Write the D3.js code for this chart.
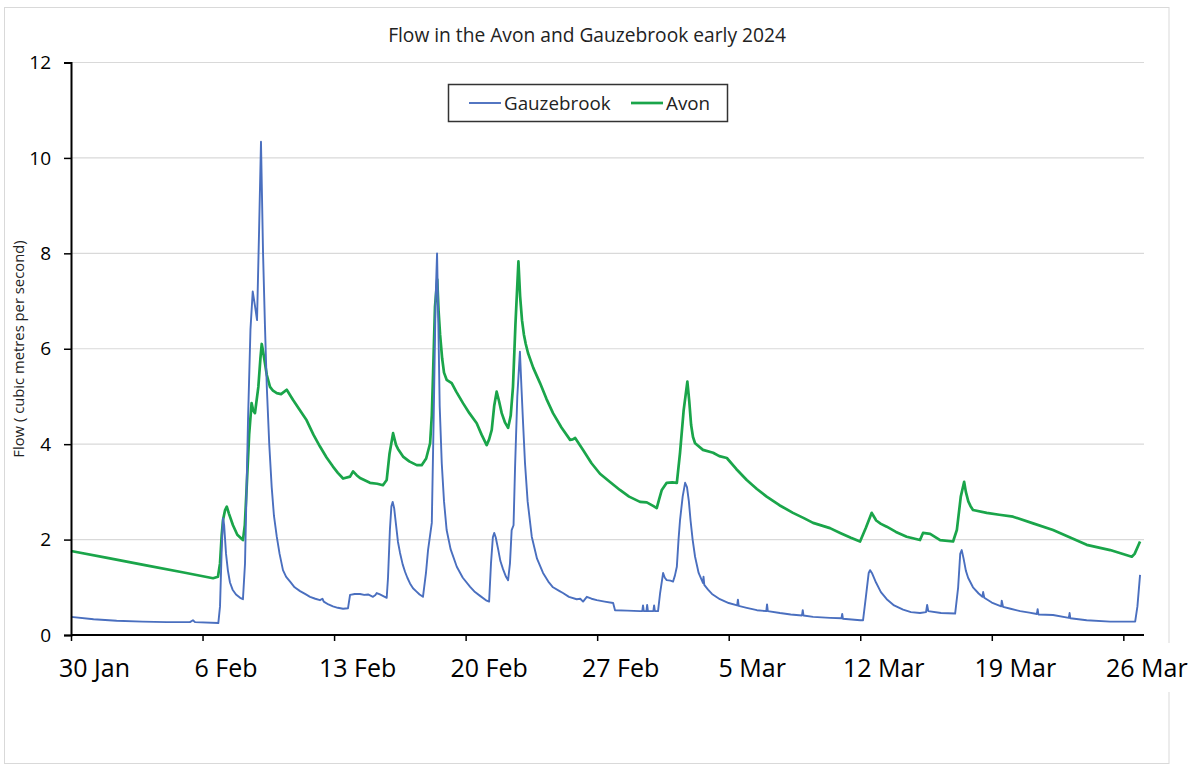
<!DOCTYPE html>
<html><head><meta charset="utf-8">
<script src="https://cdn.jsdelivr.net/npm/d3@7"></script>
<style>
body{margin:0;background:#fff;}
text{font-family:"Open Sans",Lato,sans-serif;fill:#000;}
</style>
</head><body>
<svg id="chart" width="1200" height="767"></svg>
<script>
// ---------- data ----------
const chartTitle = "Flow in the Avon and Gauzebrook early 2024";
const yAxisTitle = "Flow ( cubic metres per second)";
const seriesNames = ["Gauzebrook", "Avon"];
const startDay = Date.UTC(2024, 0, 30);   // 30 Jan 2024
const tickDayOffsets = [0, 7, 14, 21, 28, 35, 42, 49, 56];
const tickLabels = ["30 Jan", "6 Feb", "13 Feb", "20 Feb", "27 Feb", "5 Mar", "12 Mar", "19 Mar", "26 Mar"];
const yTicks = [0, 2, 4, 6, 8, 10, 12];

// [days since 30 Jan, flow m3/s]
const gauzeReadings = [[0.00,0.38],[1.2,0.33],[2.43,0.30],[3.8,0.28],[5.09,0.27],[6.33,0.27],[6.49,0.31],[6.60,0.27],[7.84,0.25],[7.93,0.60],
  [8.02,1.8],[8.09,2.45],[8.15,2.3],[8.25,1.7],[8.35,1.35],[8.46,1.1],[8.6,0.95],[8.78,0.85],[9.0,0.78],[9.15,0.75],
  [9.26,1.5],[9.42,4.5],[9.55,6.4],[9.67,7.2],[9.79,6.9],[9.90,6.6],[10.01,8.5],[10.11,10.34],[10.22,8.0],[10.32,6.5],
  [10.42,5.2],[10.55,4.0],[10.68,3.1],[10.8,2.5],[10.95,2.06],[11.1,1.7],[11.28,1.36],[11.45,1.22],[11.66,1.12],[11.9,1.0],
  [12.19,0.92],[12.5,0.85],[12.72,0.80],[13.0,0.76],[13.25,0.73],[13.38,0.76],[13.45,0.70],[13.7,0.64],[13.94,0.60],[14.2,0.57],
  [14.48,0.55],[14.74,0.56],[14.85,0.84],[15.1,0.86],[15.38,0.86],[15.6,0.84],[15.81,0.85],[16.07,0.80],[16.2,0.84],[16.27,0.88],
  [16.44,0.85],[16.80,0.78],[16.87,1.2],[16.97,2.2],[17.05,2.7],[17.12,2.79],[17.2,2.65],[17.3,2.3],[17.4,1.95],[17.51,1.72],
  [17.65,1.48],[17.78,1.32],[17.9,1.2],[18.04,1.08],[18.2,0.98],[18.36,0.92],[18.55,0.85],[18.73,0.80],[18.89,1.3],[19.0,1.78],
  [19.20,2.35],[19.32,5.0],[19.40,7.0],[19.48,8.0],[19.55,6.5],[19.62,4.8],[19.73,3.6],[19.85,2.8],[19.99,2.2],[20.2,1.8],
  [20.53,1.43],[20.85,1.2],[21.24,1.01],[21.5,0.9],[21.77,0.82],[22.12,0.72],[22.25,0.70],[22.35,1.5],[22.45,2.05],[22.52,2.14],
  [22.6,2.05],[22.73,1.8],[22.85,1.55],[22.99,1.38],[23.15,1.22],[23.26,1.15],[23.36,1.5],[23.45,2.2],[23.55,2.3],[23.63,3.5],
  [23.75,5.0],[23.89,5.94],[23.97,5.2],[24.05,4.5],[24.16,3.6],[24.3,2.8],[24.52,2.06],[24.8,1.6],[25.12,1.3],[25.4,1.12],
  [25.65,1.0],[26.0,0.92],[26.18,0.88],[26.5,0.80],[26.91,0.75],[27.1,0.76],[27.25,0.70],[27.45,0.80],[27.7,0.76],[27.98,0.73],
  [28.4,0.70],[28.85,0.67],[28.95,0.52],[29.6,0.51],[30.28,0.50],[30.40,0.50],[30.44,0.62],[30.48,0.50],[30.62,0.50],[30.66,0.63],
  [30.70,0.50],[30.99,0.50],[31.03,0.62],[31.07,0.50],[31.24,0.50],[31.35,0.88],[31.51,1.30],[31.60,1.20],[31.70,1.15],[31.9,1.14],
  [32.04,1.12],[32.14,1.25],[32.24,1.43],[32.33,2.0],[32.41,2.41],[32.55,2.9],[32.68,3.19],[32.78,3.1],[32.88,2.8],[32.97,2.4],
  [33.08,2.0],[33.21,1.64],[33.4,1.3],[33.63,1.09],[33.66,1.22],[33.70,1.05],[33.9,0.95],[34.11,0.86],[34.53,0.75],[35.0,0.67],
  [35.45,0.62],[35.49,0.74],[35.53,0.61],[35.96,0.57],[36.5,0.52],[37.0,0.50],[37.04,0.64],[37.08,0.50],[37.73,0.46],[38.3,0.43],
  [38.9,0.41],[38.94,0.52],[38.98,0.41],[39.49,0.38],[40.39,0.36],[41.0,0.35],[41.04,0.44],[41.08,0.34],[42.0,0.31],[42.15,0.31],
  [42.3,0.8],[42.45,1.3],[42.52,1.36],[42.62,1.3],[42.84,1.1],[43.1,0.9],[43.41,0.75],[43.8,0.62],[44.28,0.53],[44.7,0.48],
  [45.18,0.46],[45.50,0.48],[45.56,0.63],[45.62,0.50],[46.3,0.46],[47.05,0.45],[47.21,1.0],[47.32,1.7],[47.40,1.78],[47.5,1.6],
  [47.62,1.35],[47.74,1.2],[48.0,1.0],[48.3,0.87],[48.50,0.80],[48.54,0.90],[48.60,0.78],[49.0,0.68],[49.50,0.60],[49.53,0.72],
  [49.60,0.59],[50.0,0.55],[50.51,0.50],[51.0,0.47],[51.40,0.44],[51.44,0.54],[51.48,0.43],[52.26,0.42],[53.10,0.36],[53.14,0.46],
  [53.18,0.35],[54.05,0.31],[55.30,0.28],[56.63,0.28],[56.75,0.6],[56.89,1.26]];

const avonReadings = [[0.00,1.76],[2.0,1.61],[4.0,1.46],[6.0,1.31],[7.56,1.19],[7.82,1.22],[7.93,1.50],[8.02,2.1],[8.09,2.41],[8.20,2.62],
  [8.29,2.69],[8.40,2.55],[8.62,2.3],[8.85,2.1],[9.15,1.99],[9.25,2.3],[9.35,3.11],[9.48,4.2],[9.61,4.86],[9.70,4.7],
  [9.79,4.65],[9.97,5.2],[10.08,5.8],[10.15,6.1],[10.22,5.95],[10.32,5.7],[10.42,5.45],[10.59,5.2],[10.75,5.12],[10.95,5.07],
  [11.18,5.05],[11.35,5.1],[11.48,5.14],[11.81,4.93],[12.2,4.7],[12.54,4.5],[12.9,4.2],[13.25,3.95],[13.6,3.72],[13.94,3.53],
  [14.2,3.4],[14.48,3.28],[14.85,3.32],[15.01,3.43],[15.2,3.35],[15.38,3.29],[15.91,3.19],[16.3,3.17],[16.60,3.14],[16.80,3.25],
  [16.95,3.8],[17.14,4.23],[17.22,4.1],[17.30,3.98],[17.40,3.9],[17.67,3.74],[18.0,3.64],[18.40,3.56],[18.66,3.56],[18.9,3.7],
  [19.11,4.02],[19.2,4.6],[19.27,5.5],[19.37,6.88],[19.49,7.45],[19.56,6.8],[19.64,6.3],[19.75,5.8],[19.85,5.5],[19.99,5.35],
  [20.26,5.28],[20.5,5.1],[20.86,4.86],[21.2,4.65],[21.59,4.44],[21.85,4.2],[22.12,3.98],[22.25,4.1],[22.39,4.30],[22.52,4.8],
  [22.65,5.10],[22.78,4.9],[22.92,4.65],[23.1,4.45],[23.26,4.34],[23.4,4.6],[23.52,5.2],[23.65,6.5],[23.81,7.83],[23.9,7.1],
  [24.0,6.6],[24.1,6.3],[24.2,6.1],[24.32,5.91],[24.6,5.6],[24.96,5.28],[25.3,4.95],[25.65,4.65],[26.1,4.35],[26.56,4.09],
  [26.7,4.1],[26.83,4.13],[27.25,3.88],[27.7,3.6],[28.15,3.38],[28.7,3.2],[29.21,3.04],[29.7,2.9],[30.28,2.79],[30.64,2.78],
  [31.0,2.7],[31.17,2.66],[31.3,2.85],[31.44,3.04],[31.70,3.19],[32.0,3.2],[32.24,3.19],[32.41,3.82],[32.6,4.7],[32.80,5.31],
  [32.9,4.9],[33.0,4.4],[33.1,4.15],[33.21,4.02],[33.63,3.88],[34.17,3.82],[34.5,3.75],[34.90,3.71],[35.4,3.48],[35.96,3.25],
  [36.5,3.06],[37.02,2.9],[37.7,2.72],[38.42,2.56],[39.0,2.45],[39.49,2.35],[40.39,2.24],[40.93,2.14],[41.5,2.04],[41.99,1.96],
  [42.3,2.25],[42.61,2.56],[42.7,2.5],[42.85,2.4],[43.1,2.33],[43.41,2.27],[43.9,2.16],[44.47,2.06],[45.18,1.99],[45.34,2.14],
  [45.72,2.12],[46.25,1.99],[46.94,1.96],[47.14,2.2],[47.35,2.9],[47.53,3.21],[47.62,3.0],[47.75,2.8],[47.87,2.7],[48.0,2.62],
  [48.73,2.56],[49.4,2.52],[50.13,2.48],[51.2,2.34],[52.26,2.2],[53.2,2.04],[54.05,1.89],[55.30,1.78],[56.45,1.64],[56.6,1.7],
  [56.89,1.96]];

// ---------- drawing ----------
const svg = d3.select("#chart");
const dayToDate = d => new Date(startDay + d * 86400000);
const x = d3.scaleUtc().domain([dayToDate(0), dayToDate(57.1)]).range([71, 1144]);
const y = d3.scaleLinear().domain([0, 12]).range([635, 62.5]);
const colors = {Gauzebrook: "#4a6fbf", Avon: "#1aa54a"};
const widths = {Gauzebrook: 1.9, Avon: 2.7};

// outer frame
svg.append("rect").attr("x", 4.5).attr("y", 7.5).attr("width", 1164.5).attr("height", 756)
  .attr("fill", "#fff").attr("stroke", "#d9d9d9").attr("stroke-width", 1);

// title
svg.append("text").attr("x", 587).attr("y", 42).attr("text-anchor", "middle")
  .style("font-size", "19.2px").style("fill", "#222").text(chartTitle);

// gridlines
svg.append("g").selectAll("line").data(yTicks.filter(v => v > 0)).join("line")
  .attr("x1", 71).attr("x2", 1144).attr("y1", d => y(d)).attr("y2", d => y(d))
  .attr("stroke", "#d9d9d9").attr("stroke-width", 1.2);

// lines
const line = d3.line().x(d => x(dayToDate(d[0]))).y(d => y(d[1]));
svg.append("path").datum(avonReadings).attr("d", line).attr("fill", "none")
  .attr("stroke", colors.Avon).attr("stroke-width", widths.Avon).attr("stroke-linejoin", "round");
svg.append("path").datum(gauzeReadings).attr("d", line).attr("fill", "none")
  .attr("stroke", colors.Gauzebrook).attr("stroke-width", widths.Gauzebrook).attr("stroke-linejoin", "round");

// y axis
const yAxis = d3.axisLeft(y).tickValues(yTicks).tickSize(7).tickPadding(13).tickFormat(d3.format("d"));
const gy = svg.append("g").attr("transform", "translate(71,0)").call(yAxis);
gy.select(".domain").attr("stroke", "#000").attr("stroke-width", 2);
gy.selectAll(".tick line").attr("stroke", "#000").attr("stroke-width", 1.5);
gy.selectAll(".tick text").style("font-size", "19px").style("font-family", "'Open Sans', sans-serif").attr("fill", "#222");

// x axis
const xAxis = d3.axisBottom(x).tickValues(tickDayOffsets.map(dayToDate)).tickSize(6)
  .tickFormat((d, i) => tickLabels[i]);
const gx = svg.append("g").attr("transform", "translate(0,635)").call(xAxis);
gx.select(".domain").attr("stroke", "#000").attr("stroke-width", 2).attr("d", "M71,0H1144");
gx.selectAll(".tick line").attr("stroke", "#000").attr("stroke-width", 1.5);
gx.selectAll(".tick text").style("font-size", "25px").style("font-family", "'Open Sans', sans-serif")
  .attr("fill", "#111").attr("x", 23).attr("y", 24).attr("dy", "0.71em");
// white label boxes (cover the frame line like the reference)
gx.selectAll(".tick").each(function() {
  const t = d3.select(this).select("text");
  const bb = t.node().getBBox();
  d3.select(this).insert("rect", "text").attr("x", bb.x - 4).attr("y", 8).attr("width", bb.width + 8)
    .attr("height", 49).attr("fill", "#fff");
});

// y axis title
svg.append("text").attr("transform", "translate(24,349) rotate(-90)").attr("text-anchor", "middle")
  .style("font-size", "14.8px").style("fill", "#222").text(yAxisTitle);

// legend
const lg = svg.append("g");
lg.append("rect").attr("x", 448.5).attr("y", 84.5).attr("width", 279).attr("height", 37)
  .attr("fill", "#fff").attr("stroke", "#333").attr("stroke-width", 1.5);
const legendX = [469, 631];
seriesNames.forEach((name, i) => {
  lg.append("line").attr("x1", legendX[i]).attr("x2", legendX[i] + 32).attr("y1", 103).attr("y2", 103)
    .attr("stroke", colors[name]).attr("stroke-width", widths[name]);
  lg.append("text").attr("x", legendX[i] + 35).attr("y", 109.5).style("font-size", "18.8px").style("fill", "#222").text(name);
});
</script>
</body></html>
